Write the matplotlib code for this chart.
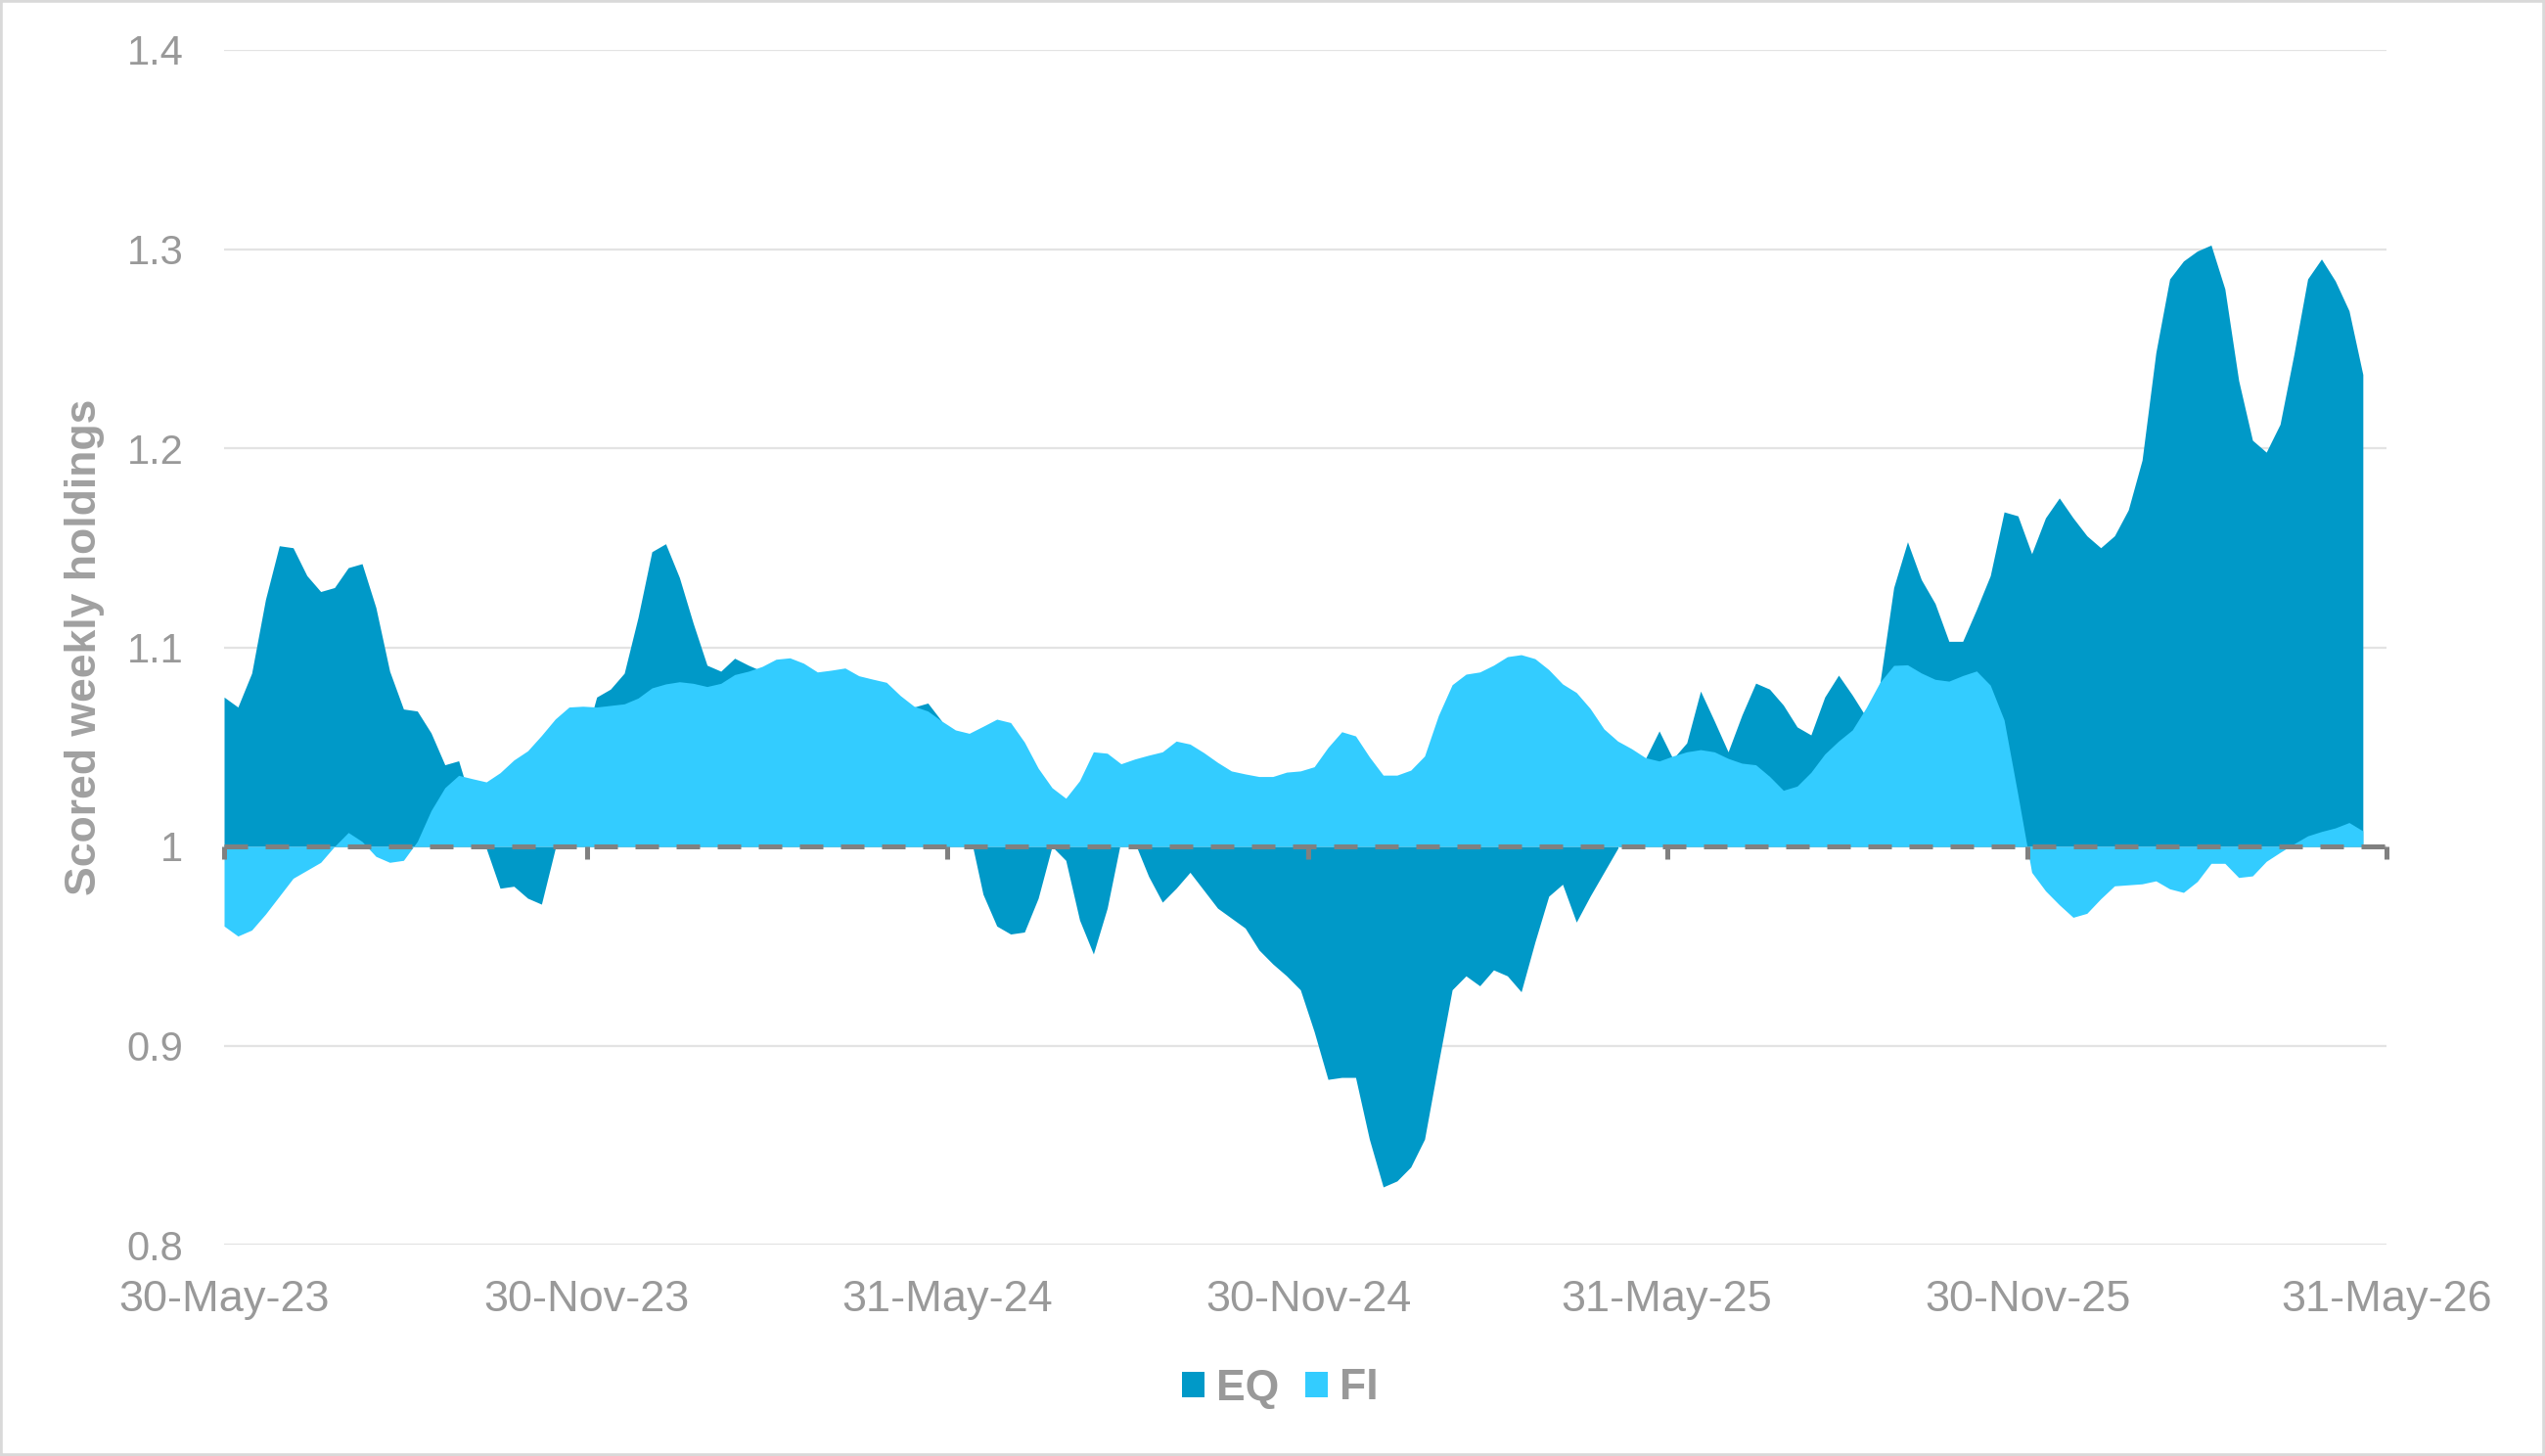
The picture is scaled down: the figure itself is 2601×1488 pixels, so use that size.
import matplotlib
matplotlib.use('Agg')
import matplotlib.pyplot as plt
import matplotlib.dates as mdates
from matplotlib.patches import Patch, Rectangle
import pandas as pd

plt.rcParams['font.family'] = ['Liberation Sans', 'DejaVu Sans']

# ---------------- data ----------------
start_date = '2023-05-30'   # weekly observations

eq = [1.075, 1.070, 1.087, 1.124, 1.151, 1.150, 1.136, 1.128, 1.130, 1.140,
      1.142, 1.120, 1.088, 1.069, 1.068, 1.057, 1.041, 1.043, 1.020, 0.999,
      0.979, 0.980, 0.974, 0.971, 0.999, 1.025, 1.050, 1.075, 1.079, 1.087,
      1.115, 1.148, 1.152, 1.135, 1.112, 1.091, 1.088, 1.0945, 1.091, 1.088,
      1.089, 1.090, 1.087, 1.084, 1.084, 1.084, 1.081, 1.079, 1.076, 1.071,
      1.070, 1.072, 1.063, 1.030, 1.008, 0.976, 0.960, 0.956, 0.957, 0.974,
      1.000, 0.993, 0.963, 0.946, 0.969, 1.003, 1.002, 0.985, 0.972, 0.979,
      0.987, 0.978, 0.969, 0.964, 0.959, 0.948, 0.941, 0.935, 0.928, 0.907,
      0.883, 0.884, 0.884, 0.853, 0.829, 0.832, 0.839, 0.853, 0.891, 0.928,
      0.935, 0.930, 0.938, 0.935, 0.927, 0.952, 0.975, 0.981, 0.962, 0.975,
      0.987, 0.999, 1.025, 1.044, 1.058, 1.044, 1.052, 1.078, 1.063, 1.0475,
      1.066, 1.082, 1.079, 1.071, 1.060, 1.056, 1.075, 1.086, 1.076, 1.065,
      1.082, 1.130, 1.153, 1.134, 1.122, 1.103, 1.103, 1.119, 1.136, 1.168,
      1.166, 1.147, 1.165, 1.175, 1.165, 1.156, 1.150, 1.156, 1.169, 1.194,
      1.248, 1.285, 1.294, 1.299, 1.302, 1.280, 1.234, 1.204, 1.198, 1.212,
      1.247, 1.285, 1.295, 1.284, 1.269, 1.237]

fi = [0.960, 0.955, 0.958, 0.966, 0.975, 0.984, 0.988, 0.992, 1.000, 1.007,
      1.0025, 0.995, 0.992, 0.993, 1.0025, 1.018, 1.0295, 1.0357, 1.034, 1.0324,
      1.037, 1.0434, 1.048, 1.0557, 1.064, 1.070, 1.0704, 1.070, 1.0708, 1.0716,
      1.0745, 1.0796, 1.0816, 1.0827, 1.0819, 1.0803, 1.0819, 1.0863, 1.088, 1.0904,
      1.094, 1.0947, 1.092, 1.0876, 1.0885, 1.0896, 1.0857, 1.084, 1.0824, 1.0758,
      1.0704, 1.068, 1.063, 1.0585, 1.0568, 1.0603, 1.0639, 1.0622, 1.0524, 1.0393,
      1.0295, 1.0242, 1.033, 1.0475, 1.0468, 1.0415, 1.0439, 1.0458, 1.0475, 1.0529,
      1.0514, 1.0471, 1.0422, 1.0379, 1.0364, 1.0351, 1.0351, 1.0373, 1.0379, 1.040,
      1.0497, 1.0576, 1.0555, 1.045, 1.0358, 1.0358, 1.0383, 1.0454, 1.0657, 1.0812,
      1.0865, 1.0876, 1.091, 1.0953, 1.0963, 1.0943, 1.0888, 1.0816, 1.0773, 1.0693,
      1.059, 1.0529, 1.0491, 1.0446, 1.0429, 1.0454, 1.0475, 1.0486, 1.0475, 1.0442,
      1.0418, 1.041, 1.0352, 1.0282, 1.0303, 1.0372, 1.0464, 1.0529, 1.0585, 1.0696,
      1.0824, 1.0909, 1.0912, 1.0871, 1.0839, 1.083, 1.0858, 1.0881, 1.081, 1.0635,
      1.026, 0.987, 0.9777, 0.9707, 0.9644, 0.9664, 0.9737, 0.9802, 0.9807, 0.9812,
      0.9827, 0.9787, 0.9769, 0.9824, 0.9915, 0.9915, 0.9844, 0.9852, 0.9925, 0.997,
      1.0013, 1.0053, 1.0075, 1.0093, 1.012, 1.0078]

tick_dates = ['2023-05-30', '2023-11-30', '2024-05-31', '2024-11-30',
              '2025-05-31', '2025-11-30', '2026-05-31']
tick_labels = ['30-May-23', '30-Nov-23', '31-May-24', '30-Nov-24',
               '31-May-25', '30-Nov-25', '31-May-26']
y_ticks = [0.8, 0.9, 1.0, 1.1, 1.2, 1.3, 1.4]
y_tick_labels = ['0.8', '0.9', '1', '1.1', '1.2', '1.3', '1.4']
series_names = ['EQ', 'FI']
baseline = 1.0

# ---------------- style ----------------
C_EQ = '#0099C8'
C_FI = '#33CCFF'
C_TEXT = '#999999'
C_GRID = '#E3E3E3'
C_AXIS = '#808080'

W, H = 2601, 1488
fig = plt.figure(figsize=(W / 100, H / 100), dpi=100)
fig.patch.set_facecolor('white')

x0, x1, ytop, ybot = 229, 2439, 51, 1272
ax = fig.add_axes([x0 / W, 1 - ybot / H, (x1 - x0) / W, (ybot - ytop) / H])

dates = pd.date_range(start_date, periods=len(eq), freq='7D')
tick_nums = mdates.date2num(pd.to_datetime(tick_dates))

# gridlines (below the areas)
for yv in y_ticks:
    ax.axhline(yv, color=C_GRID, lw=1.6, zorder=0.5)

ax.fill_between(dates, baseline, eq, color=C_EQ, lw=0, zorder=1, label=series_names[0])
ax.fill_between(dates, baseline, fi, color=C_FI, lw=0, zorder=1.1, label=series_names[1])

# dashed category axis at y = 1
ax.axhline(baseline, color=C_AXIS, lw=3.6, linestyle=(0, (4.8, 3.6)),
           dash_capstyle='butt', zorder=3)

ax.set_xlim(tick_nums[0], tick_nums[-1])
ax.set_ylim(y_ticks[0], y_ticks[-1])

for s in ['left', 'right', 'top']:
    ax.spines[s].set_visible(False)
ax.spines['bottom'].set_position(('data', baseline))
ax.spines['bottom'].set_visible(False)

ax.set_xticks(tick_nums)
ax.tick_params(axis='x', direction='out', length=9.5, width=3.6, color=C_AXIS,
               labelbottom=False)
ax.set_axisbelow(False)

ax.set_yticks(y_ticks)
ax.set_yticklabels(y_tick_labels)
ax.tick_params(axis='y', length=0, pad=30, labelsize=30, labelcolor=C_TEXT)

# labels at the bottom of the plot area
sec = ax.secondary_xaxis('bottom')
sec.set_xticks(tick_nums)
sec.set_xticklabels(tick_labels)
sec.tick_params(length=0, pad=26, labelsize=32.5, labelcolor=C_TEXT)
sec.spines['bottom'].set_visible(False)

# y-axis title
fig.text(87 / W, 1 - 661 / H, 'Scored weekly holdings', rotation=90,
         ha='center', va='center', fontsize=32, fontweight='bold', color='#A0A0A0')

# legend
handles = [Patch(facecolor=C_EQ, edgecolor='none', label=series_names[0]),
           Patch(facecolor=C_FI, edgecolor='none', label=series_names[1])]
fig.legend(handles=handles, loc='center', bbox_to_anchor=(1308 / W, 1 - 1419 / H),
           ncol=2, frameon=False, prop=dict(weight='bold', size=32),
           labelcolor=C_TEXT, handlelength=0.52, handleheight=0.52,
           handletextpad=0.27, columnspacing=0.6, borderpad=0, borderaxespad=0)

# chart border
fig.patches.append(Rectangle((0, 0), 1, 1, transform=fig.transFigure, fill=False,
                             edgecolor='#D9D9D9', lw=4))

fig.savefig('out.png', dpi=100, facecolor='white')
